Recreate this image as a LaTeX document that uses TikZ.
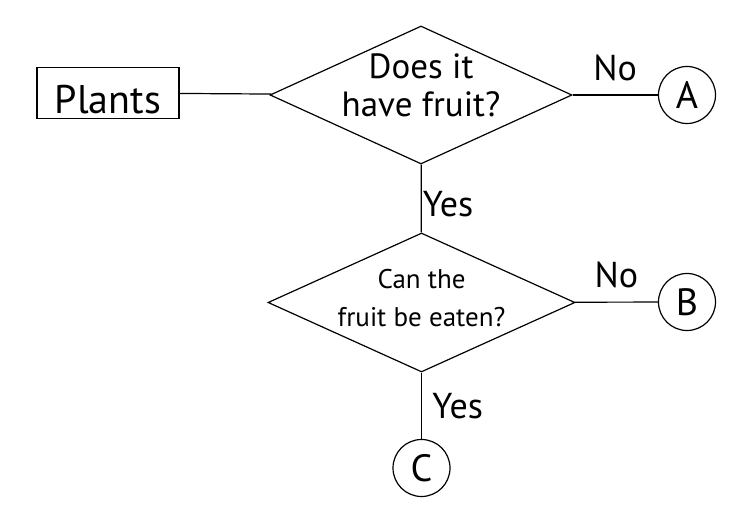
\documentclass[tikz,border=0pt]{standalone}
\usepackage{fontspec}
\setmainfont{PT Sans}
\usetikzlibrary{shapes.geometric,positioning}

\begin{document}
\begin{tikzpicture}[-,x=1pt,y=-1pt,line width=1.2pt,
  box node/.style={rectangle,draw,minimum width=142pt,minimum height=51pt,
    inner sep=3.5pt,text height=42pt,text depth=0pt,font=\fontsize{40}{42}\selectfont},
  ask node/.style={diamond,draw,inner sep=0pt},
  ask text/.style={align=center,inner sep=0pt},
  end node/.style={circle,draw,minimum size=57pt,inner sep=0pt,font=\fontsize{38}{40}\selectfont},
  lab node/.style={font=\fontsize{36}{38}\selectfont}]
  \useasboundingbox (0,0) rectangle (753,521);
  \node[box node] (plants) at (108,93) {Plants};
  \node[ask node,minimum width=302pt,minimum height=138pt] (q1) at (421,95) {};
  \node[ask text,font=\fontsize{35}{38}\selectfont] (q1text) at (421,85) {Does it\\have fruit?};
  \node[ask node,minimum width=307pt,minimum height=139pt] (q2) at (421.5,302.5) {};
  \node[ask text,font=\fontsize{27}{38}\selectfont] (q2text) at (421.5,298) {Can the\\fruit be eaten?};
  \node[end node] (a) at (687,95) {A};
  \node[end node] (b) at (687,302) {B};
  \node[end node] (c) at (421.5,468) {C};

  \path[every node/.style={lab node}]
    (plants) edge (q1)
    (q1) edge node[above=10pt] {No} (a)
    (q1) edge node[right,pos=0.58,inner sep=1pt] {Yes} (q2)
    (q2) edge node[above=10pt] {No} (b)
    (q2) edge node[right=7pt,pos=0.5] {Yes} (c);
\end{tikzpicture}
\end{document}
